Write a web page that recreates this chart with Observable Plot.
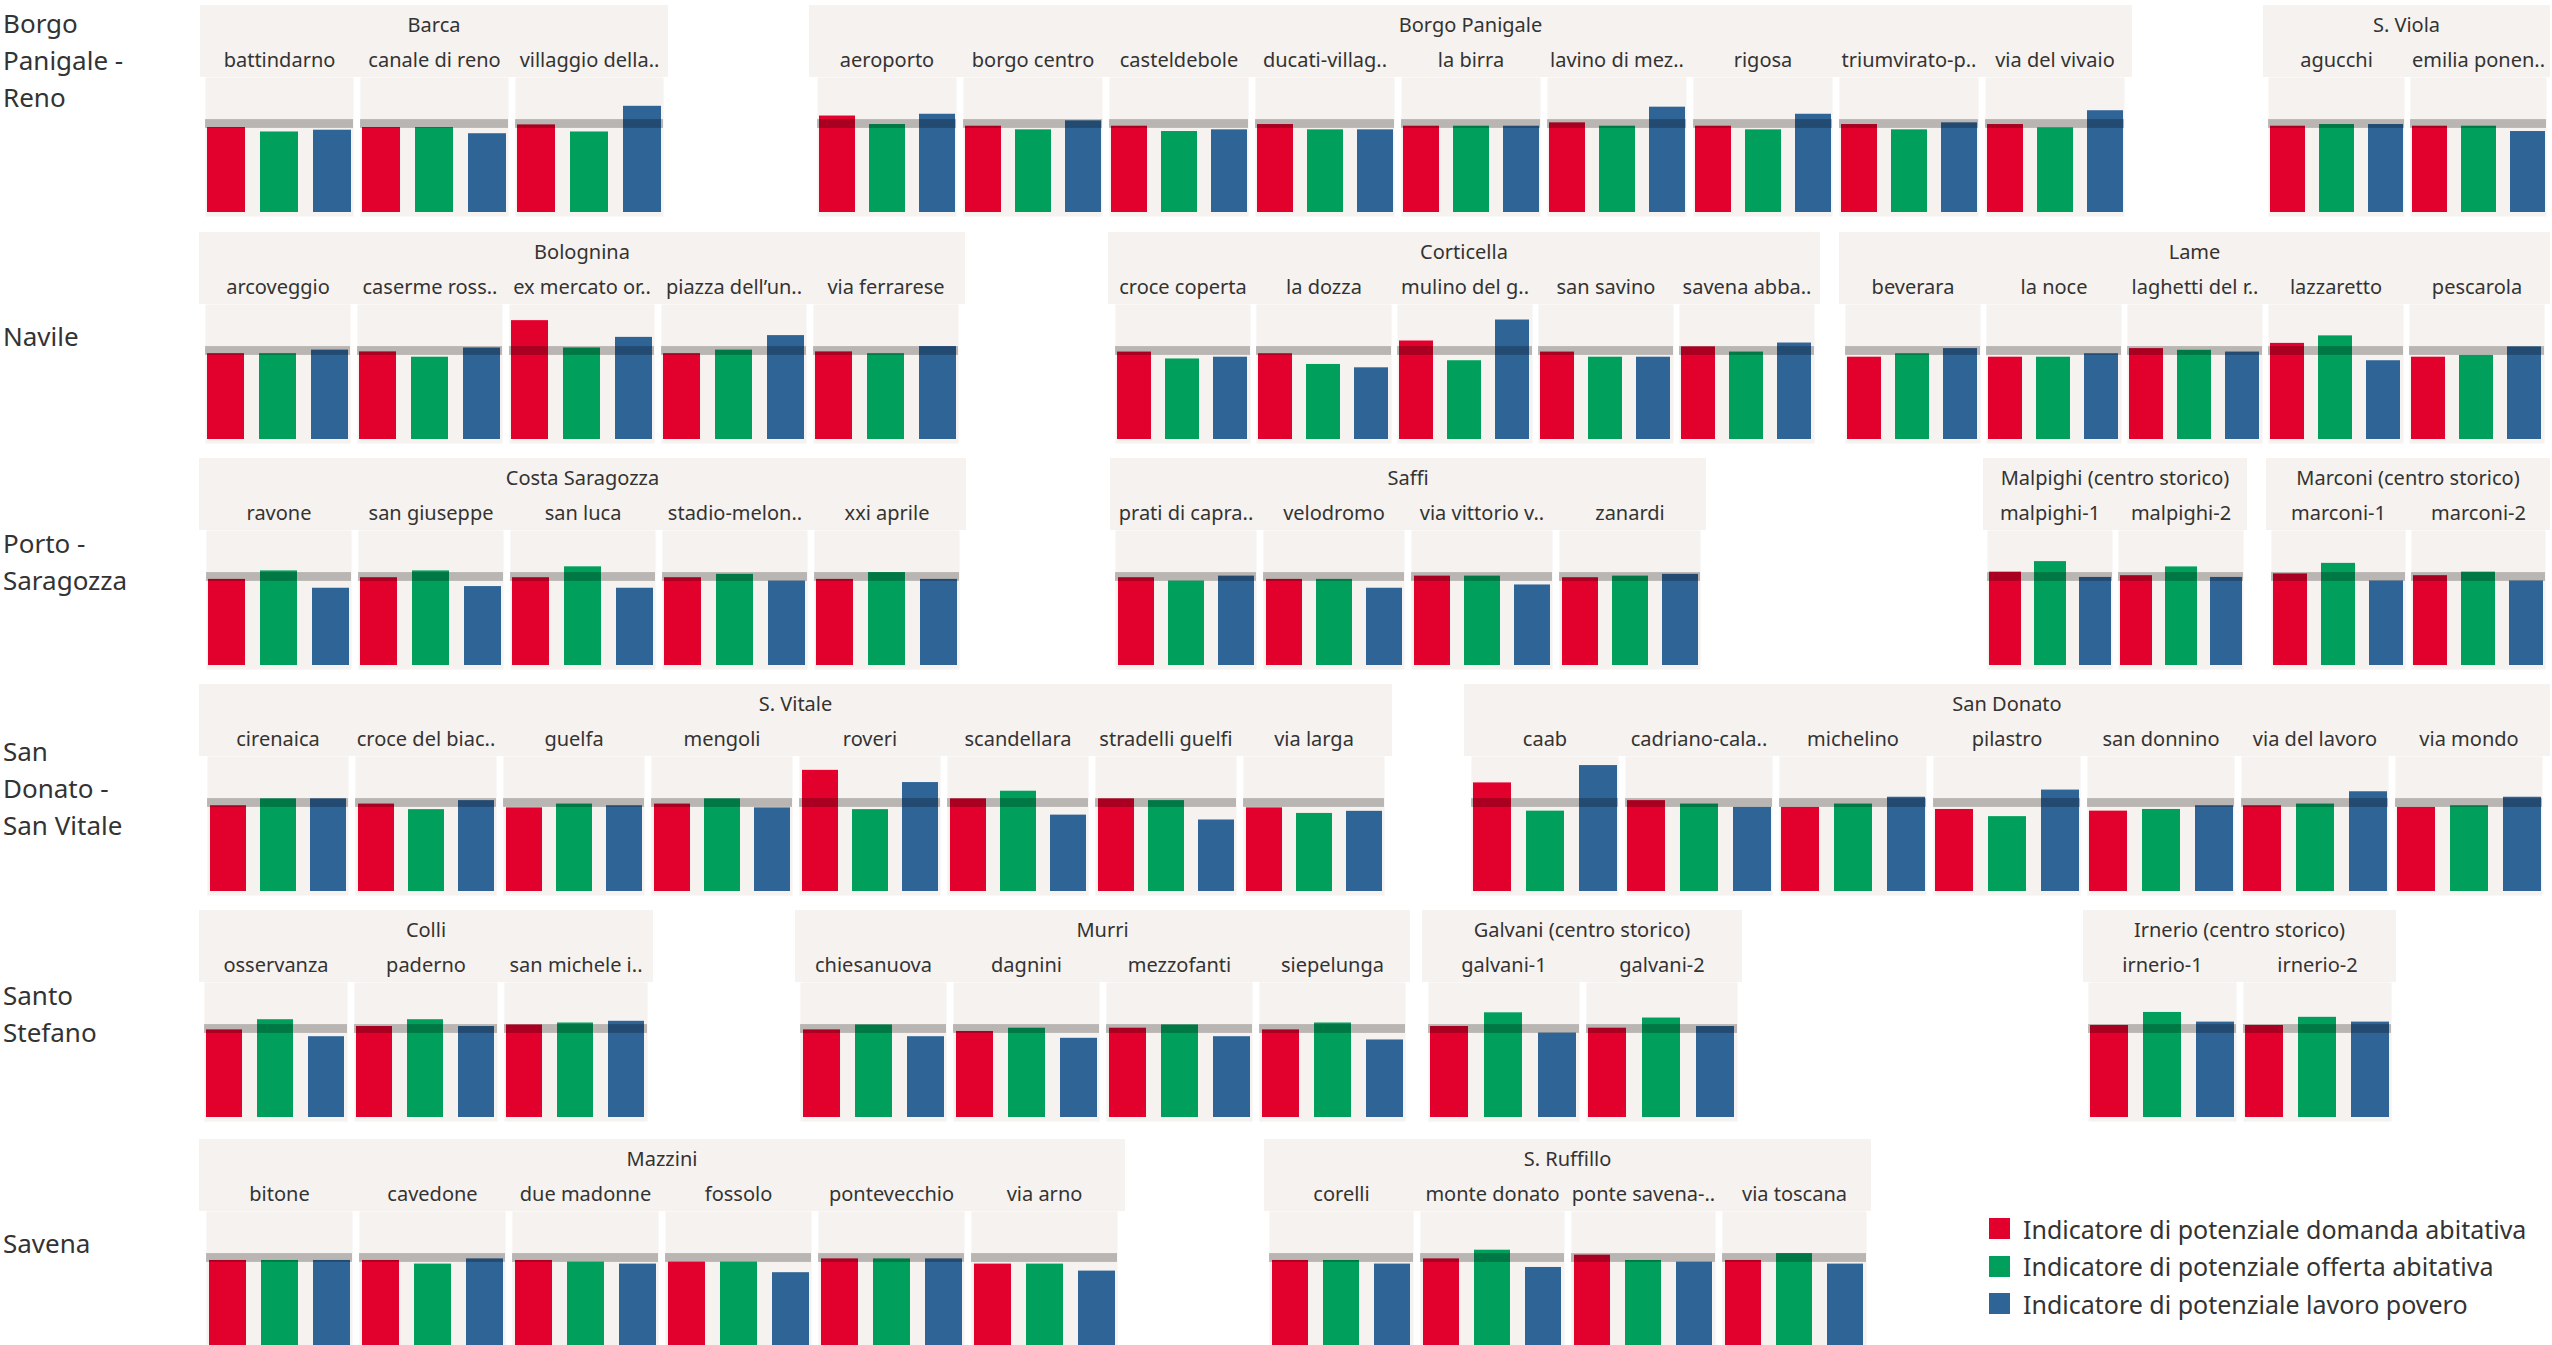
<!DOCTYPE html>
<html><head><meta charset="utf-8">
<script src="https://cdn.jsdelivr.net/npm/d3@7"></script>
<script src="https://cdn.jsdelivr.net/npm/@observablehq/plot@0.6"></script>
<style>
html,body{margin:0;padding:0;background:#fff;}
#chart{position:relative;width:2552px;height:1345px;overflow:hidden;font-family:"Noto Sans",sans-serif;color:#333;}
.row-label{position:absolute;left:3px;width:136px;font-size:26px;line-height:37px;color:#333;}
.group{position:absolute;}
.group-head{position:absolute;left:0;top:0;right:0;height:72px;background:#f6f2ef;}
.group-title{position:absolute;left:-40px;right:-40px;top:5px;text-align:center;font-size:20px;line-height:30px;white-space:nowrap;color:#333;}
.group svg{position:absolute;left:0;top:0;overflow:visible;}
.legend{position:absolute;left:1989px;top:1210px;font-size:25px;color:#333;}
.legend .item{display:flex;align-items:center;height:37.5px;white-space:nowrap;}
.legend .sw{width:21px;height:21px;margin-right:13px;flex:none;}
</style></head><body><div id="chart"></div>
<script>
// ---------------- DATA ----------------
const indicatori = [
  "Indicatore di potenziale domanda abitativa",
  "Indicatore di potenziale offerta abitativa",
  "Indicatore di potenziale lavoro povero"
];
const quartieri = ["Borgo Panigale - Reno", "Navile", "Porto - Saragozza", "San Donato - San Vitale", "Santo Stefano", "Savena"];
const zone = ["Barca", "Borgo Panigale", "S. Viola", "Bolognina", "Corticella", "Lame",
  "Costa Saragozza", "Saffi", "Malpighi (centro storico)", "Marconi (centro storico)",
  "S. Vitale", "San Donato", "Colli", "Murri", "Galvani (centro storico)", "Irnerio (centro storico)",
  "Mazzini", "S. Ruffillo"];
const quartiereDiZona = [0, 0, 0, 1, 1, 1, 2, 2, 2, 2, 3, 3, 4, 4, 4, 4, 5, 5];
const aree = [
  ["battindarno", "canale di reno", "villaggio della.."],
  ["aeroporto", "borgo centro", "casteldebole", "ducati-villag..", "la birra", "lavino di mez..", "rigosa", "triumvirato-p..", "via del vivaio"],
  ["agucchi", "emilia ponen.."],
  ["arcoveggio", "caserme ross..", "ex mercato or..", "piazza dell’un..", "via ferrarese"],
  ["croce coperta", "la dozza", "mulino del g..", "san savino", "savena abba.."],
  ["beverara", "la noce", "laghetti del r..", "lazzaretto", "pescarola"],
  ["ravone", "san giuseppe", "san luca", "stadio-melon..", "xxi aprile"],
  ["prati di capra..", "velodromo", "via vittorio v..", "zanardi"],
  ["malpighi-1", "malpighi-2"],
  ["marconi-1", "marconi-2"],
  ["cirenaica", "croce del biac..", "guelfa", "mengoli", "roveri", "scandellara", "stradelli guelfi", "via larga"],
  ["caab", "cadriano-cala..", "michelino", "pilastro", "san donnino", "via del lavoro", "via mondo"],
  ["osservanza", "paderno", "san michele i.."],
  ["chiesanuova", "dagnini", "mezzofanti", "siepelunga"],
  ["galvani-1", "galvani-2"],
  ["irnerio-1", "irnerio-2"],
  ["bitone", "cavedone", "due madonne", "fossolo", "pontevecchio", "via arno"],
  ["corelli", "monte donato", "ponte savena-..", "via toscana"]
];
const domanda = [
  [0.96, 0.96, 0.99],
  [1.09, 0.975, 0.975, 0.994, 0.975, 1.013, 0.975, 0.994, 0.994],
  [0.975, 0.975],
  [0.97, 0.99, 1.343, 0.97, 0.99],
  [0.988, 0.969, 1.113, 0.988, 1.047],
  [0.93, 0.93, 1.027, 1.086, 0.93],
  [0.973, 0.992, 0.992, 0.992, 0.973],
  [0.992, 0.973, 1.01, 0.992],
  [1.055, 1.015],
  [1.035, 1.015],
  [0.969, 0.988, 0.945, 0.988, 1.369, 1.047, 1.047, 0.945],
  [1.227, 1.027, 0.95, 0.927, 0.908, 0.969, 0.95],
  [0.99, 1.028, 1.046],
  [0.99, 0.972, 1.009, 0.99],
  [1.028, 1.009],
  [1.04, 1.04],
  [0.972, 0.972, 0.972, 0.953, 0.99, 0.931],
  [0.972, 0.99, 1.032, 0.972]
];
const offerta = [
  [0.91, 0.96, 0.91],
  [0.994, 0.934, 0.915, 0.934, 0.975, 0.975, 0.934, 0.934, 0.956],
  [0.994, 0.975],
  [0.97, 0.93, 1.034, 1.01, 0.97],
  [0.91, 0.848, 0.89, 0.93, 0.988],
  [0.969, 0.93, 1.008, 1.171, 0.95],
  [1.069, 1.069, 1.115, 1.03, 1.05],
  [0.954, 0.973, 1.01, 1.01],
  [1.174, 1.114],
  [1.154, 1.055],
  [1.047, 0.925, 0.988, 1.047, 0.925, 1.133, 1.027, 0.882],
  [0.908, 0.988, 0.988, 0.846, 0.927, 0.988, 0.969],
  [1.105, 1.105, 1.068],
  [1.046, 1.009, 1.046, 1.068],
  [1.183, 1.124],
  [1.187, 1.132],
  [0.972, 0.931, 0.953, 0.953, 0.99, 0.931],
  [0.972, 1.088, 0.972, 1.05]
];
const lavoro = [
  [0.93, 0.89, 1.2],
  [1.11, 1.036, 0.934, 0.934, 0.975, 1.19, 1.11, 1.013, 1.15],
  [0.994, 0.915],
  [1.01, 1.034, 1.154, 1.174, 1.05],
  [0.93, 0.81, 1.35, 0.93, 1.09],
  [1.027, 0.969, 0.988, 0.89, 1.047],
  [0.873, 0.892, 0.873, 0.954, 0.973],
  [1.01, 0.873, 0.91, 1.03],
  [0.995, 0.995],
  [0.955, 0.955],
  [1.047, 1.027, 0.969, 0.945, 1.231, 0.863, 0.808, 0.906],
  [1.423, 0.95, 1.065, 1.146, 0.969, 1.127, 1.065],
  [0.913, 1.028, 1.087],
  [0.913, 0.895, 0.913, 0.876],
  [0.954, 1.028],
  [1.078, 1.078],
  [0.972, 0.99, 0.931, 0.834, 0.99, 0.852],
  [0.931, 0.893, 0.953, 0.931]
];
const bandaRiferimento = [0.95, 1.05];

// ---------------- LAYOUT & STYLE ----------------
const colori = ["#e2002c", "#00a05c", "#2f6497"];
const beige = "#f6f2ef";
const rowTop = [5, 232, 458, 684, 910, 1139];
const zoneX = [200, 809, 2263, 199, 1108, 1839, 199, 1110, 1983, 2266, 199, 1464, 199, 795, 1422, 2083, 199, 1264];
const zoneW = [468, 1323, 287, 766, 712, 711, 767, 596, 264, 284, 1193, 1086, 454, 615, 320, 313, 926, 607];
const H = 211, headH = 72, pxPerUnit = 88.5, pad = 4;
const yDomain = [-pad / pxPerUnit, (H - headH - pad) / pxPerUnit];
const font = '"Noto Sans", sans-serif';

const chart = document.getElementById("chart");

quartieri.forEach((q, i) => {
  const d = document.createElement("div");
  d.className = "row-label";
  d.textContent = q;
  d.style.top = (rowTop[i] + (i === 0 ? 0 : 104)) + "px";
  if (i > 0) d.style.transform = "translateY(-50%)";
  chart.appendChild(d);
});

zone.forEach((z, k) => {
  const q = quartiereDiZona[k];
  const g = document.createElement("div");
  g.className = "group";
  g.style.left = zoneX[k] + "px";
  g.style.top = rowTop[q] + "px";
  g.style.width = zoneW[k] + "px";
  g.style.height = H + "px";
  const head = document.createElement("div");
  head.className = "group-head";
  g.appendChild(head);
  const t = document.createElement("div");
  t.className = "group-title";
  t.textContent = z;
  g.appendChild(t);

  const rows = [];
  aree[k].forEach((a, j) => {
    rows.push({area: a, ind: indicatori[0], val: domanda[k][j]});
    rows.push({area: a, ind: indicatori[1], val: offerta[k][j]});
    rows.push({area: a, ind: indicatori[2], val: lavoro[k][j]});
  });

  const svg = Plot.plot({
    width: zoneW[k], height: H,
    marginTop: headH, marginBottom: 0, marginLeft: 0, marginRight: 0,
    style: {background: "transparent", fontFamily: font, color: "#333", overflow: "visible", maxWidth: "none"},
    fx: {domain: aree[k], paddingInner: 0.045, paddingOuter: 0.03, axis: null, label: null},
    x: {domain: indicatori, paddingInner: 0.29, paddingOuter: 0.03, axis: null},
    y: {domain: yDomain, axis: null},
    color: {domain: indicatori, range: colori},
    marks: [
      Plot.frame({fill: beige, stroke: "none"}),
      Plot.barY(rows, {fx: "area", x: "ind", y: "val", fill: "ind"}),
      Plot.rect([bandaRiferimento], {y1: d => d[0], y2: d => d[1], fill: "#000", fillOpacity: 0.25}),
      Plot.text(aree[k], {fx: d => d, text: d => d, frameAnchor: "top", lineAnchor: "middle", dy: -17, fontSize: 20, fill: "#333"})
    ]
  });
  g.appendChild(svg);
  chart.appendChild(g);
});

const leg = document.createElement("div");
leg.className = "legend";
indicatori.forEach((ind, i) => {
  const it = document.createElement("div");
  it.className = "item";
  const sw = document.createElement("span");
  sw.className = "sw";
  sw.style.background = colori[i];
  it.appendChild(sw);
  const tx = document.createElement("span");
  tx.textContent = ind;
  it.appendChild(tx);
  leg.appendChild(it);
});
chart.appendChild(leg);
</script></body></html>
